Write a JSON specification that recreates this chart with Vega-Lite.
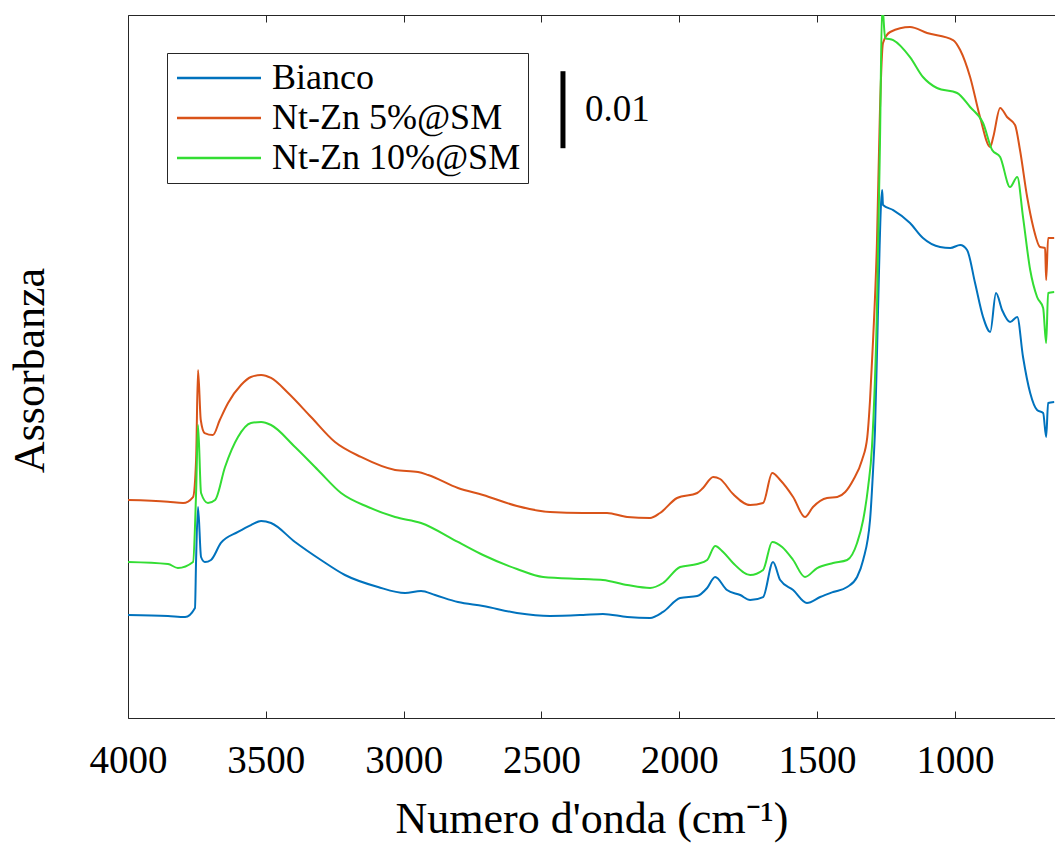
{
  "$schema": "https://vega.github.io/schema/vega-lite/v6.json",
  "width": 927,
  "height": 703,
  "autosize": {"type": "none"},
  "padding": {"left": 128, "top": 15, "right": 0, "bottom": 125},
  "background": "white",
  "config": {
    "view": {"stroke": null},
    "font": "Liberation Serif",
    "axis": {"domainColor": "#262626", "tickColor": "#262626", "labelColor": "#000000", "titleColor": "#000000", "titleFontWeight": "normal", "grid": false, "labelFont": "Liberation Serif", "titleFont": "Liberation Serif"}
  },
  "datasets": {
    "spectra": [
      {"sample": "Bianco", "wn": 4000, "abs": 0.01338}, {"sample": "Bianco", "wn": 3855, "abs": 0.01325}, {"sample": "Bianco", "wn": 3793, "abs": 0.01312}, {"sample": "Bianco", "wn": 3757, "abs": 0.01429}, {"sample": "Bianco", "wn": 3753, "abs": 0.02052}, {"sample": "Bianco", "wn": 3746, "abs": 0.02740}, {"sample": "Bianco", "wn": 3735, "abs": 0.02091}, {"sample": "Bianco", "wn": 3721, "abs": 0.02026}, {"sample": "Bianco", "wn": 3699, "abs": 0.02052}, {"sample": "Bianco", "wn": 3663, "abs": 0.02273}, {"sample": "Bianco", "wn": 3601, "abs": 0.02416}, {"sample": "Bianco", "wn": 3554, "abs": 0.02506}, {"sample": "Bianco", "wn": 3517, "abs": 0.02558}, {"sample": "Bianco", "wn": 3481, "abs": 0.02532}, {"sample": "Bianco", "wn": 3394, "abs": 0.02286}, {"sample": "Bianco", "wn": 3300, "abs": 0.02052}, {"sample": "Bianco", "wn": 3213, "abs": 0.01857}, {"sample": "Bianco", "wn": 3093, "abs": 0.01701}, {"sample": "Bianco", "wn": 2995, "abs": 0.01623}, {"sample": "Bianco", "wn": 2937, "abs": 0.01649}, {"sample": "Bianco", "wn": 2886, "abs": 0.01597}, {"sample": "Bianco", "wn": 2803, "abs": 0.01506}, {"sample": "Bianco", "wn": 2712, "abs": 0.01455}, {"sample": "Bianco", "wn": 2589, "abs": 0.01364}, {"sample": "Bianco", "wn": 2469, "abs": 0.01325}, {"sample": "Bianco", "wn": 2349, "abs": 0.01338}, {"sample": "Bianco", "wn": 2277, "abs": 0.01351}, {"sample": "Bianco", "wn": 2189, "abs": 0.01312}, {"sample": "Bianco", "wn": 2106, "abs": 0.01299}, {"sample": "Bianco", "wn": 2059, "abs": 0.01377}, {"sample": "Bianco", "wn": 1997, "abs": 0.01558}, {"sample": "Bianco", "wn": 1935, "abs": 0.01584}, {"sample": "Bianco", "wn": 1899, "abs": 0.01688}, {"sample": "Bianco", "wn": 1870, "abs": 0.01831}, {"sample": "Bianco", "wn": 1827, "abs": 0.01662}, {"sample": "Bianco", "wn": 1779, "abs": 0.01597}, {"sample": "Bianco", "wn": 1743, "abs": 0.01532}, {"sample": "Bianco", "wn": 1696, "abs": 0.01571}, {"sample": "Bianco", "wn": 1660, "abs": 0.02026}, {"sample": "Bianco", "wn": 1634, "abs": 0.01792}, {"sample": "Bianco", "wn": 1587, "abs": 0.01662}, {"sample": "Bianco", "wn": 1537, "abs": 0.01494}, {"sample": "Bianco", "wn": 1489, "abs": 0.01571}, {"sample": "Bianco", "wn": 1442, "abs": 0.01636}, {"sample": "Bianco", "wn": 1391, "abs": 0.01701}, {"sample": "Bianco", "wn": 1355, "abs": 0.01831}, {"sample": "Bianco", "wn": 1333, "abs": 0.02052}, {"sample": "Bianco", "wn": 1308, "abs": 0.02571}, {"sample": "Bianco", "wn": 1297, "abs": 0.03221}, {"sample": "Bianco", "wn": 1290, "abs": 0.03740}, {"sample": "Bianco", "wn": 1279, "abs": 0.05299}, {"sample": "Bianco", "wn": 1268, "abs": 0.06688}, {"sample": "Bianco", "wn": 1264, "abs": 0.06857}, {"sample": "Bianco", "wn": 1261, "abs": 0.06662}, {"sample": "Bianco", "wn": 1224, "abs": 0.06597}, {"sample": "Bianco", "wn": 1163, "abs": 0.06429}, {"sample": "Bianco", "wn": 1116, "abs": 0.06234}, {"sample": "Bianco", "wn": 1054, "abs": 0.06117}, {"sample": "Bianco", "wn": 1017, "abs": 0.06104}, {"sample": "Bianco", "wn": 981, "abs": 0.06143}, {"sample": "Bianco", "wn": 956, "abs": 0.06078}, {"sample": "Bianco", "wn": 927, "abs": 0.05649}, {"sample": "Bianco", "wn": 898, "abs": 0.05208}, {"sample": "Bianco", "wn": 872, "abs": 0.05013}, {"sample": "Bianco", "wn": 851, "abs": 0.05519}, {"sample": "Bianco", "wn": 829, "abs": 0.05299}, {"sample": "Bianco", "wn": 800, "abs": 0.05143}, {"sample": "Bianco", "wn": 774, "abs": 0.05208}, {"sample": "Bianco", "wn": 753, "abs": 0.04688}, {"sample": "Bianco", "wn": 727, "abs": 0.04221}, {"sample": "Bianco", "wn": 702, "abs": 0.04000}, {"sample": "Bianco", "wn": 680, "abs": 0.03961}, {"sample": "Bianco", "wn": 669, "abs": 0.03649}, {"sample": "Bianco", "wn": 662, "abs": 0.04091}, {"sample": "Bianco", "wn": 640, "abs": 0.04104},

      {"sample": "Nt-Zn 5%@SM", "wn": 4000, "abs": 0.02831}, {"sample": "Nt-Zn 5%@SM", "wn": 3855, "abs": 0.02809}, {"sample": "Nt-Zn 5%@SM", "wn": 3800, "abs": 0.02792}, {"sample": "Nt-Zn 5%@SM", "wn": 3764, "abs": 0.02870}, {"sample": "Nt-Zn 5%@SM", "wn": 3753, "abs": 0.03351}, {"sample": "Nt-Zn 5%@SM", "wn": 3746, "abs": 0.04519}, {"sample": "Nt-Zn 5%@SM", "wn": 3736, "abs": 0.03870}, {"sample": "Nt-Zn 5%@SM", "wn": 3722, "abs": 0.03701}, {"sample": "Nt-Zn 5%@SM", "wn": 3692, "abs": 0.03675}, {"sample": "Nt-Zn 5%@SM", "wn": 3667, "abs": 0.03870}, {"sample": "Nt-Zn 5%@SM", "wn": 3637, "abs": 0.04091}, {"sample": "Nt-Zn 5%@SM", "wn": 3590, "abs": 0.04325}, {"sample": "Nt-Zn 5%@SM", "wn": 3554, "abs": 0.04429}, {"sample": "Nt-Zn 5%@SM", "wn": 3517, "abs": 0.04455}, {"sample": "Nt-Zn 5%@SM", "wn": 3481, "abs": 0.04416}, {"sample": "Nt-Zn 5%@SM", "wn": 3419, "abs": 0.04221}, {"sample": "Nt-Zn 5%@SM", "wn": 3336, "abs": 0.03909}, {"sample": "Nt-Zn 5%@SM", "wn": 3249, "abs": 0.03584}, {"sample": "Nt-Zn 5%@SM", "wn": 3155, "abs": 0.03390}, {"sample": "Nt-Zn 5%@SM", "wn": 3031, "abs": 0.03221}, {"sample": "Nt-Zn 5%@SM", "wn": 2948, "abs": 0.03195}, {"sample": "Nt-Zn 5%@SM", "wn": 2911, "abs": 0.03156}, {"sample": "Nt-Zn 5%@SM", "wn": 2803, "abs": 0.02987}, {"sample": "Nt-Zn 5%@SM", "wn": 2712, "abs": 0.02896}, {"sample": "Nt-Zn 5%@SM", "wn": 2589, "abs": 0.02753}, {"sample": "Nt-Zn 5%@SM", "wn": 2469, "abs": 0.02675}, {"sample": "Nt-Zn 5%@SM", "wn": 2349, "abs": 0.02662}, {"sample": "Nt-Zn 5%@SM", "wn": 2262, "abs": 0.02662}, {"sample": "Nt-Zn 5%@SM", "wn": 2189, "abs": 0.02610}, {"sample": "Nt-Zn 5%@SM", "wn": 2106, "abs": 0.02597}, {"sample": "Nt-Zn 5%@SM", "wn": 2070, "abs": 0.02662}, {"sample": "Nt-Zn 5%@SM", "wn": 2008, "abs": 0.02857}, {"sample": "Nt-Zn 5%@SM", "wn": 1935, "abs": 0.02922}, {"sample": "Nt-Zn 5%@SM", "wn": 1914, "abs": 0.02987}, {"sample": "Nt-Zn 5%@SM", "wn": 1877, "abs": 0.03130}, {"sample": "Nt-Zn 5%@SM", "wn": 1852, "abs": 0.03104}, {"sample": "Nt-Zn 5%@SM", "wn": 1805, "abs": 0.02909}, {"sample": "Nt-Zn 5%@SM", "wn": 1743, "abs": 0.02766}, {"sample": "Nt-Zn 5%@SM", "wn": 1696, "abs": 0.02792}, {"sample": "Nt-Zn 5%@SM", "wn": 1663, "abs": 0.03182}, {"sample": "Nt-Zn 5%@SM", "wn": 1634, "abs": 0.03091}, {"sample": "Nt-Zn 5%@SM", "wn": 1587, "abs": 0.02870}, {"sample": "Nt-Zn 5%@SM", "wn": 1544, "abs": 0.02610}, {"sample": "Nt-Zn 5%@SM", "wn": 1515, "abs": 0.02740}, {"sample": "Nt-Zn 5%@SM", "wn": 1464, "abs": 0.02857}, {"sample": "Nt-Zn 5%@SM", "wn": 1427, "abs": 0.02870}, {"sample": "Nt-Zn 5%@SM", "wn": 1398, "abs": 0.02935}, {"sample": "Nt-Zn 5%@SM", "wn": 1369, "abs": 0.03091}, {"sample": "Nt-Zn 5%@SM", "wn": 1337, "abs": 0.03351}, {"sample": "Nt-Zn 5%@SM", "wn": 1318, "abs": 0.03649}, {"sample": "Nt-Zn 5%@SM", "wn": 1308, "abs": 0.04130}, {"sample": "Nt-Zn 5%@SM", "wn": 1297, "abs": 0.04909}, {"sample": "Nt-Zn 5%@SM", "wn": 1283, "abs": 0.06169}, {"sample": "Nt-Zn 5%@SM", "wn": 1272, "abs": 0.07896}, {"sample": "Nt-Zn 5%@SM", "wn": 1261, "abs": 0.08766}, {"sample": "Nt-Zn 5%@SM", "wn": 1235, "abs": 0.08909}, {"sample": "Nt-Zn 5%@SM", "wn": 1163, "abs": 0.08974}, {"sample": "Nt-Zn 5%@SM", "wn": 1101, "abs": 0.08896}, {"sample": "Nt-Zn 5%@SM", "wn": 1007, "abs": 0.08805}, {"sample": "Nt-Zn 5%@SM", "wn": 981, "abs": 0.08675}, {"sample": "Nt-Zn 5%@SM", "wn": 945, "abs": 0.08325}, {"sample": "Nt-Zn 5%@SM", "wn": 909, "abs": 0.07805}, {"sample": "Nt-Zn 5%@SM", "wn": 872, "abs": 0.07416}, {"sample": "Nt-Zn 5%@SM", "wn": 861, "abs": 0.07545}, {"sample": "Nt-Zn 5%@SM", "wn": 836, "abs": 0.07922}, {"sample": "Nt-Zn 5%@SM", "wn": 811, "abs": 0.07805}, {"sample": "Nt-Zn 5%@SM", "wn": 782, "abs": 0.07701}, {"sample": "Nt-Zn 5%@SM", "wn": 764, "abs": 0.07377}, {"sample": "Nt-Zn 5%@SM", "wn": 738, "abs": 0.06766}, {"sample": "Nt-Zn 5%@SM", "wn": 716, "abs": 0.06377}, {"sample": "Nt-Zn 5%@SM", "wn": 691, "abs": 0.06117}, {"sample": "Nt-Zn 5%@SM", "wn": 673, "abs": 0.06104}, {"sample": "Nt-Zn 5%@SM", "wn": 669, "abs": 0.05688}, {"sample": "Nt-Zn 5%@SM", "wn": 662, "abs": 0.06234}, {"sample": "Nt-Zn 5%@SM", "wn": 640, "abs": 0.06234},

      {"sample": "Nt-Zn 10%@SM", "wn": 4000, "abs": 0.02026}, {"sample": "Nt-Zn 10%@SM", "wn": 3855, "abs": 0.02000}, {"sample": "Nt-Zn 10%@SM", "wn": 3819, "abs": 0.01948}, {"sample": "Nt-Zn 10%@SM", "wn": 3764, "abs": 0.02026}, {"sample": "Nt-Zn 10%@SM", "wn": 3753, "abs": 0.02922}, {"sample": "Nt-Zn 10%@SM", "wn": 3746, "abs": 0.03805}, {"sample": "Nt-Zn 10%@SM", "wn": 3735, "abs": 0.02922}, {"sample": "Nt-Zn 10%@SM", "wn": 3710, "abs": 0.02792}, {"sample": "Nt-Zn 10%@SM", "wn": 3684, "abs": 0.02831}, {"sample": "Nt-Zn 10%@SM", "wn": 3648, "abs": 0.03260}, {"sample": "Nt-Zn 10%@SM", "wn": 3601, "abs": 0.03649}, {"sample": "Nt-Zn 10%@SM", "wn": 3554, "abs": 0.03831}, {"sample": "Nt-Zn 10%@SM", "wn": 3517, "abs": 0.03844}, {"sample": "Nt-Zn 10%@SM", "wn": 3481, "abs": 0.03805}, {"sample": "Nt-Zn 10%@SM", "wn": 3394, "abs": 0.03519}, {"sample": "Nt-Zn 10%@SM", "wn": 3311, "abs": 0.03221}, {"sample": "Nt-Zn 10%@SM", "wn": 3227, "abs": 0.02922}, {"sample": "Nt-Zn 10%@SM", "wn": 3129, "abs": 0.02740}, {"sample": "Nt-Zn 10%@SM", "wn": 3031, "abs": 0.02610}, {"sample": "Nt-Zn 10%@SM", "wn": 2937, "abs": 0.02532}, {"sample": "Nt-Zn 10%@SM", "wn": 2803, "abs": 0.02286}, {"sample": "Nt-Zn 10%@SM", "wn": 2712, "abs": 0.02117}, {"sample": "Nt-Zn 10%@SM", "wn": 2589, "abs": 0.01935}, {"sample": "Nt-Zn 10%@SM", "wn": 2494, "abs": 0.01831}, {"sample": "Nt-Zn 10%@SM", "wn": 2349, "abs": 0.01805}, {"sample": "Nt-Zn 10%@SM", "wn": 2277, "abs": 0.01792}, {"sample": "Nt-Zn 10%@SM", "wn": 2189, "abs": 0.01727}, {"sample": "Nt-Zn 10%@SM", "wn": 2106, "abs": 0.01688}, {"sample": "Nt-Zn 10%@SM", "wn": 2059, "abs": 0.01753}, {"sample": "Nt-Zn 10%@SM", "wn": 1997, "abs": 0.01961}, {"sample": "Nt-Zn 10%@SM", "wn": 1935, "abs": 0.02000}, {"sample": "Nt-Zn 10%@SM", "wn": 1899, "abs": 0.02052}, {"sample": "Nt-Zn 10%@SM", "wn": 1870, "abs": 0.02234}, {"sample": "Nt-Zn 10%@SM", "wn": 1841, "abs": 0.02156}, {"sample": "Nt-Zn 10%@SM", "wn": 1805, "abs": 0.02013}, {"sample": "Nt-Zn 10%@SM", "wn": 1743, "abs": 0.01857}, {"sample": "Nt-Zn 10%@SM", "wn": 1696, "abs": 0.01922}, {"sample": "Nt-Zn 10%@SM", "wn": 1663, "abs": 0.02286}, {"sample": "Nt-Zn 10%@SM", "wn": 1627, "abs": 0.02221}, {"sample": "Nt-Zn 10%@SM", "wn": 1587, "abs": 0.02052}, {"sample": "Nt-Zn 10%@SM", "wn": 1544, "abs": 0.01831}, {"sample": "Nt-Zn 10%@SM", "wn": 1500, "abs": 0.01948}, {"sample": "Nt-Zn 10%@SM", "wn": 1442, "abs": 0.02013}, {"sample": "Nt-Zn 10%@SM", "wn": 1391, "abs": 0.02052}, {"sample": "Nt-Zn 10%@SM", "wn": 1355, "abs": 0.02273}, {"sample": "Nt-Zn 10%@SM", "wn": 1333, "abs": 0.02571}, {"sample": "Nt-Zn 10%@SM", "wn": 1315, "abs": 0.03000}, {"sample": "Nt-Zn 10%@SM", "wn": 1301, "abs": 0.03519}, {"sample": "Nt-Zn 10%@SM", "wn": 1283, "abs": 0.05299}, {"sample": "Nt-Zn 10%@SM", "wn": 1272, "abs": 0.07468}, {"sample": "Nt-Zn 10%@SM", "wn": 1264, "abs": 0.09260}, {"sample": "Nt-Zn 10%@SM", "wn": 1253, "abs": 0.08831}, {"sample": "Nt-Zn 10%@SM", "wn": 1224, "abs": 0.08805}, {"sample": "Nt-Zn 10%@SM", "wn": 1163, "abs": 0.08584}, {"sample": "Nt-Zn 10%@SM", "wn": 1116, "abs": 0.08325}, {"sample": "Nt-Zn 10%@SM", "wn": 1065, "abs": 0.08182}, {"sample": "Nt-Zn 10%@SM", "wn": 992, "abs": 0.08117}, {"sample": "Nt-Zn 10%@SM", "wn": 945, "abs": 0.07935}, {"sample": "Nt-Zn 10%@SM", "wn": 898, "abs": 0.07727}, {"sample": "Nt-Zn 10%@SM", "wn": 865, "abs": 0.07377}, {"sample": "Nt-Zn 10%@SM", "wn": 836, "abs": 0.07286}, {"sample": "Nt-Zn 10%@SM", "wn": 800, "abs": 0.06896}, {"sample": "Nt-Zn 10%@SM", "wn": 774, "abs": 0.07026}, {"sample": "Nt-Zn 10%@SM", "wn": 753, "abs": 0.06506}, {"sample": "Nt-Zn 10%@SM", "wn": 727, "abs": 0.05818}, {"sample": "Nt-Zn 10%@SM", "wn": 702, "abs": 0.05468}, {"sample": "Nt-Zn 10%@SM", "wn": 680, "abs": 0.05325}, {"sample": "Nt-Zn 10%@SM", "wn": 669, "abs": 0.04870}, {"sample": "Nt-Zn 10%@SM", "wn": 662, "abs": 0.05519}, {"sample": "Nt-Zn 10%@SM", "wn": 640, "abs": 0.05532}
    ],
    "scalebar": [
      {"wn": 2422, "top": 0.0840, "bottom": 0.0740, "label": "0.01", "labelWn": 2342, "mid": 0.0790}
    ]
  },
  "resolve": {"axis": {"x": "independent", "y": "independent"}},
  "layer": [
    {
      "data": {"name": "spectra"},
      "mark": {"type": "line", "strokeWidth": 2, "clip": true, "interpolate": "monotone"},
      "encoding": {
        "x": {"field": "wn", "type": "quantitative",
          "scale": {"domain": [637, 4000], "reverse": true, "nice": false, "zero": false},
          "axis": {"orient": "bottom", "values": [1000, 1500, 2000, 2500, 3000, 3500, 4000], "format": "d", "labelFontSize": 39, "tickSize": -7, "labelPadding": 30, "domain": true, "title": "Numero d'onda (cm⁻¹)", "titleFontSize": 44, "titleY": 114, "titleBaseline": "alphabetic", "labelFlush": false, "labelOverlap": false}},
        "y": {"field": "abs", "type": "quantitative",
          "scale": {"domain": [0, 0.0913], "nice": false, "zero": false},
          "axis": {"orient": "left", "ticks": false, "labels": false, "domain": true, "title": "Assorbanza", "titleFontSize": 44, "titleAngle": -90, "titleX": -85, "titleY": 355, "titleBaseline": "alphabetic", "titleAlign": "center"}},
        "color": {"field": "sample", "type": "nominal",
          "scale": {"domain": ["Bianco", "Nt-Zn 5%@SM", "Nt-Zn 10%@SM"], "range": ["#0072BD", "#D95319", "#33DD33"]},
          "legend": {"orient": "none", "legendX": 39, "legendY": 38, "title": null, "direction": "vertical", "strokeColor": "#262626", "fillColor": "white", "padding": 7, "symbolType": "M-1,0H4.6", "symbolSize": 900, "symbolStrokeWidth": 2.5, "symbolFillColor": "transparent", "labelFont": "Liberation Serif", "labelFontSize": 36, "labelColor": "#000000", "labelOffset": 62, "labelLimit": 400, "rowPadding": 4}}
      }
    },
    {
      "data": {"name": "scalebar"},
      "mark": {"type": "rule", "strokeWidth": 5, "color": "black"},
      "encoding": {
        "x": {"field": "wn", "type": "quantitative", "axis": {"orient": "top", "labels": false, "tickSize": -7, "domain": true, "title": null, "values": [1000, 1500, 2000, 2500, 3000, 3500, 4000]}},
        "y": {"field": "top", "type": "quantitative", "axis": null},
        "y2": {"field": "bottom"}
      }
    },
    {
      "data": {"name": "scalebar"},
      "mark": {"type": "text", "align": "left", "baseline": "middle", "fontSize": 37, "font": "Liberation Serif", "color": "black"},
      "encoding": {
        "x": {"field": "labelWn", "type": "quantitative", "axis": null},
        "y": {"field": "mid", "type": "quantitative", "axis": null},
        "text": {"field": "label"}
      }
    }
  ]
}
